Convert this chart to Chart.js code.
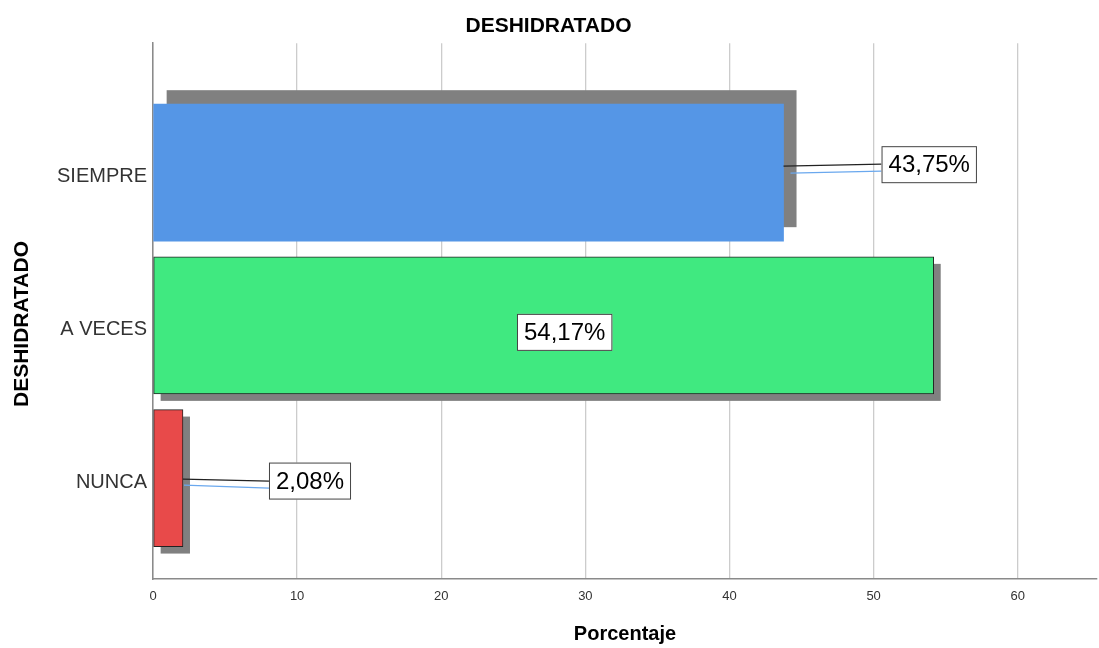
<!DOCTYPE html>
<html>
<head>
<meta charset="utf-8">
<title>DESHIDRATADO</title>
<script src="https://cdn.jsdelivr.net/npm/chart.js@4.4.0/dist/chart.umd.min.js"></script>
<style>
  html, body { margin: 0; padding: 0; background: #fff; }
  #wrap { width: 1099px; height: 648px; position: relative; }
</style>
</head>
<body>
<div id="wrap"><canvas id="chart"></canvas></div>
<script>
// Datos
const categorias = ['SIEMPRE', 'A VECES', 'NUNCA'];
const porcentajes = [43.75, 54.17, 2.08];
const etiquetas = ['43,75%', '54,17%', '2,08%'];
const xTicks = [0, 10, 20, 30, 40, 50, 60];

// Estilo
const FUENTE = '"Liberation Sans", Arial, sans-serif';
const colores = ['#5596e6', '#40e980', '#e84a4a'];
const bordes = [0, 1, 1];
const sombras = [[13, -14], [7, 7], [7, 7]];
// posicion de las cajas de etiqueta (pixeles, relativo al final / centro de la barra)
const cajas = [
    { modo: 'fuera', dx: 98, dy: -8, negro: [1.5, -0.5], azul: [8.5, 6.5] },
    { modo: 'dentro', dx: 21, dy: 7 },
    { modo: 'fuera', dx: 86, dy: 3, negro: [-2, 0], azul: [4, 7] }
];

// Sombras grises detras de las barras
const pluginSombras = {
    id: 'sombras',
    beforeDatasetsDraw(chart) {
        const ctx = chart.ctx;
        const meta = chart.getDatasetMeta(0);
        ctx.save();
        ctx.fillStyle = '#808080';
        meta.data.forEach((bar, i) => {
            const [ox, oy] = sombras[i];
            const h = bar.height;
            ctx.fillRect(bar.base + ox, bar.y - h / 2 + oy, bar.x - bar.base, h);
        });
        ctx.restore();
    }
};

// Etiquetas con caja y lineas guia
const pluginEtiquetas = {
    id: 'etiquetas',
    afterDatasetsDraw(chart) {
        const ctx = chart.ctx;
        const meta = chart.getDatasetMeta(0);
        ctx.save();
        ctx.font = '24px ' + FUENTE;
        ctx.textBaseline = 'middle';
        ctx.textAlign = 'center';
        meta.data.forEach((bar, i) => {
            const c = cajas[i];
            const txt = etiquetas[i];
            const w = ctx.measureText(txt).width + 14;
            const h = 37;
            const cy = bar.y + c.dy;
            let left;
            if (c.modo === 'fuera') {
                left = bar.x + c.dx;
                ctx.lineWidth = 1.2;
                ctx.strokeStyle = '#222';
                ctx.beginPath();
                ctx.moveTo(bar.x, cy + c.negro[0]);
                ctx.lineTo(left, cy + c.negro[1]);
                ctx.stroke();
                ctx.strokeStyle = '#6aa8ee';
                ctx.beginPath();
                ctx.moveTo(bar.x + sombras[i][0] - 6, cy + c.azul[0]);
                ctx.lineTo(left, cy + c.azul[1]);
                ctx.stroke();
            } else {
                left = (bar.x + bar.base) / 2 + c.dx - w / 2;
            }
            ctx.fillStyle = '#fff';
            ctx.fillRect(left, cy - h / 2, w, h);
            ctx.lineWidth = 1;
            ctx.strokeStyle = '#444';
            ctx.strokeRect(left + 0.5, cy - h / 2 + 0.5, w - 1, h - 1);
            ctx.fillStyle = '#000';
            ctx.fillText(txt, left + w / 2, cy + 1);
        });
        ctx.restore();
    }
};

// Titulo del eje Y
const pluginTituloY = {
    id: 'tituloY',
    afterDraw(chart) {
        const ctx = chart.ctx;
        ctx.save();
        ctx.translate(22, 324);
        ctx.rotate(-Math.PI / 2);
        ctx.font = 'bold 21px ' + FUENTE;
        ctx.fillStyle = '#000';
        ctx.textAlign = 'center';
        ctx.textBaseline = 'middle';
        ctx.fillText('DESHIDRATADO', 0, 0);
        ctx.restore();
    }
};

const ctx = document.getElementById('chart').getContext('2d');
new Chart(ctx, {
    type: 'bar',
    data: {
        datasets: [{
            data: porcentajes.map((v, i) => ({ x: v, y: i })),
            backgroundColor: colores,
            borderColor: '#222',
            borderWidth: bordes,
            borderSkipped: false,
            barThickness: 137
        }]
    },
    options: {
        indexAxis: 'y',
        responsive: true,
        maintainAspectRatio: false,
        animation: false,
        layout: { padding: { left: 0, right: 2, top: 0, bottom: 0 } },
        plugins: {
            legend: { display: false },
            tooltip: { enabled: false },
            title: {
                display: true,
                text: 'DESHIDRATADO',
                color: '#000',
                font: { family: FUENTE, size: 21, weight: 'bold' },
                padding: { top: 14, bottom: 4 }
            }
        },
        scales: {
            x: {
                type: 'linear',
                min: 0,
                max: 65.5,
                afterBuildTicks: (axis) => { axis.ticks = xTicks.map(v => ({ value: v })); },
                afterFit: (axis) => { axis.height = 69; },
                grid: { color: '#cccccc', lineWidth: 1.3, drawTicks: false },
                border: { color: '#8a8a8a', width: 1.5 },
                ticks: {
                    color: '#333',
                    padding: 10,
                    font: { family: FUENTE, size: 13 }
                },
                title: {
                    display: true,
                    text: 'Porcentaje',
                    color: '#000',
                    font: { family: FUENTE, size: 20, weight: 'bold' },
                    padding: { top: 0, bottom: 2 }
                }
            },
            y: {
                type: 'linear',
                reverse: true,
                offset: false,
                min: -0.848,
                max: 2.661,
                afterBuildTicks: (axis) => { axis.ticks = categorias.map((c, i) => ({ value: i })); },
                afterFit: (axis) => { axis.width = 153; },
                grid: { display: false, drawTicks: false, offset: false },
                border: { color: '#8a8a8a', width: 1.5 },
                ticks: {
                    color: '#333',
                    padding: 6,
                    labelOffset: 4,
                    font: { family: FUENTE, size: 20 },
                    callback: (v) => categorias[v]
                }
            }
        }
    },
    plugins: [pluginSombras, pluginEtiquetas, pluginTituloY]
});
</script>
</body>
</html>
